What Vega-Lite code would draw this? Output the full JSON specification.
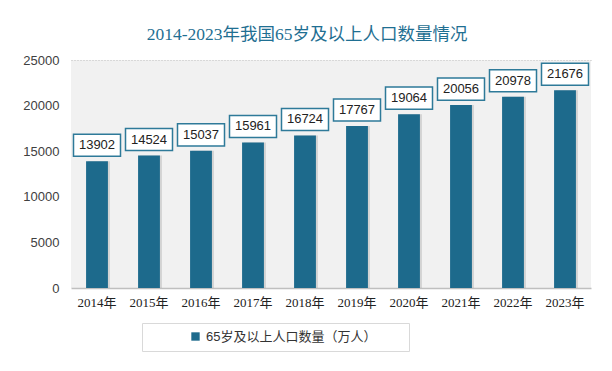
{
  "$schema": "https://vega.github.io/schema/vega-lite/v6.json",
  "width": 520,
  "height": 228,
  "padding": {"left": 22, "top": 25, "right": 24, "bottom": 19},
  "background": "white",
  "title": {
    "text": "2014-2023年我国65岁及以上人口数量情况",
    "font": "Liberation Serif, Noto Sans CJK SC",
    "fontSize": 17.5,
    "fontWeight": "normal",
    "color": "#1f6f92",
    "offset": 11,
    "anchor": "middle",
    "frame": "bounds"
  },
  "config": {"view": {"fill": "#f1f1f1", "stroke": null}},
  "data": {
    "values": [
      {"year": "2014年", "value": 13902},
      {"year": "2015年", "value": 14524},
      {"year": "2016年", "value": 15037},
      {"year": "2017年", "value": 15961},
      {"year": "2018年", "value": 16724},
      {"year": "2019年", "value": 17767},
      {"year": "2020年", "value": 19064},
      {"year": "2021年", "value": 20056},
      {"year": "2022年", "value": 20978},
      {"year": "2023年", "value": 21676}
    ]
  },
  "encoding": {
    "x": {
      "field": "year",
      "type": "nominal",
      "sort": null,
      "scale": {"paddingInner": 0.58, "paddingOuter": 0.29},
      "axis": {
        "title": null,
        "labelAngle": 0,
        "ticks": false,
        "domainColor": "#bfbfbf",
        "domainWidth": 1.5,
        "labelFont": "Liberation Serif, Noto Sans CJK SC",
        "labelFontSize": 13,
        "labelColor": "#222222",
        "labelPadding": 8
      }
    },
    "y": {
      "field": "value",
      "type": "quantitative",
      "scale": {"domain": [0, 25000]},
      "axis": {
        "title": null,
        "values": [0, 5000, 10000, 15000, 20000, 25000],
        "format": "d",
        "ticks": false,
        "domain": false,
        "labelFont": "Liberation Sans",
        "labelFontSize": 13,
        "labelColor": "#404040",
        "labelPadding": 12,
        "gridColor": "#bfbfbf",
        "gridDash": [1, 2],
        "gridOpacity": {"condition": {"test": "datum.value == 25000", "value": 1}, "value": 0}
      }
    }
  },
  "layer": [
    {
      "mark": {"type": "bar", "color": "#9a9a9a", "opacity": 0.35, "xOffset": 2}
    },
    {
      "mark": {"type": "bar"},
      "encoding": {
        "color": {
          "datum": "65岁及以上人口数量（万人）",
          "type": "nominal",
          "scale": {"range": ["#1d6a8c"]},
          "legend": {
            "title": null,
            "orient": "none",
            "legendX": 71,
            "legendY": 263,
            "strokeColor": "#d9d9d9",
            "padding": 7,
            "symbolOffset": 40,
            "symbolType": "square",
            "symbolSize": 70,
            "symbolStrokeWidth": 0,
            "labelLimit": 500,
            "labelExpr": "datum.label + '       \u200b'",
            "labelFont": "Liberation Sans, Noto Sans CJK SC",
            "labelFontSize": 13,
            "labelColor": "#333333"
          }
        }
      }
    },
    {
      "mark": {
        "type": "point",
        "shape": "M-1,-0.47L1,-0.47L1,0.47L-1,0.47Z",
        "size": 2209,
        "filled": false,
        "fill": "white",
        "fillOpacity": 1,
        "stroke": "#2e7a99",
        "strokeWidth": 1.5,
        "opacity": 1,
        "yOffset": -16
      }
    },
    {
      "mark": {
        "type": "text",
        "yOffset": -16,
        "baseline": "middle",
        "font": "Liberation Sans",
        "fontSize": 13,
        "color": "#222222"
      },
      "encoding": {"text": {"field": "value", "type": "quantitative", "format": "d"}}
    }
  ]
}
